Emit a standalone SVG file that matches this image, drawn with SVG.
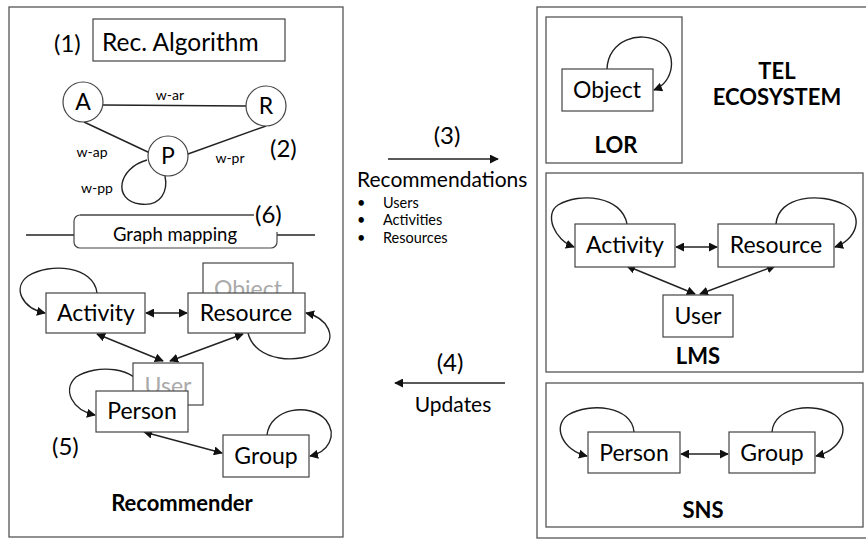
<svg xmlns="http://www.w3.org/2000/svg" width="866" height="539" viewBox="0 0 866 539">
<defs>
<marker id="ah" viewBox="0 0 10 10" refX="9" refY="5" markerWidth="9" markerHeight="9" markerUnits="userSpaceOnUse" orient="auto-start-reverse">
<path d="M0,0 L10,5 L0,10 z" fill="#111"/>
</marker>
<style>
.frame{fill:none;stroke:#555;stroke-width:1.3}
.box{fill:#fff;stroke:#444;stroke-width:1.2}
.gbox{fill:#fff;stroke:#444;stroke-width:1.2}
.ln{fill:none;stroke:#222;stroke-width:1.4}
.arr{fill:none;stroke:#222;stroke-width:1.4;marker-end:url(#ah)}
.bi{fill:none;stroke:#222;stroke-width:1.4;marker-start:url(#ah);marker-end:url(#ah)}
.t{font-family:Lato,"Open Sans",sans-serif;fill:#000}
.n{font-size:23px;text-anchor:middle}
.g{fill:#aaa}
.b{font-weight:bold;font-size:22px;text-anchor:middle}
.s{font-size:14px}
.p{font-size:24px}
</style>
</defs>
<rect width="866" height="539" fill="#fff"/>

<!-- frames -->
<g id="recommender-frame">
<rect class="frame" x="9" y="7" width="334" height="530"/>
<text class="t b" x="182" y="511" font-size="24">Recommender</text>
</g>
<g id="tel-frame">
<rect class="frame" x="537" y="7" width="340" height="531"/>
<text class="t b" x="777" y="79">TEL</text>
<text class="t b" x="777" y="105">ECOSYSTEM</text>
</g>
<g id="lor-frame">
<rect class="frame" x="546" y="17" width="136" height="146"/>
<text class="t b" x="616" y="153" font-size="23">LOR</text>
</g>
<g id="lms-frame">
<rect class="frame" x="546" y="173" width="317" height="199"/>
<text class="t b" x="698" y="364" font-size="23">LMS</text>
</g>
<g id="sns-frame">
<rect class="frame" x="546" y="383" width="317" height="144"/>
<text class="t b" x="703" y="518" font-size="23">SNS</text>
</g>

<!-- connectors -->
<g id="connectors">
<line class="ln" x1="103" y1="105" x2="246" y2="106"/>
<line class="ln" x1="84" y1="122" x2="150" y2="153"/>
<line class="ln" x1="188" y1="154" x2="266" y2="126"/>
<path class="ln" d="M147,160 C118,168 112,200 140,204 C162,207 168,190 165,176"/>
<line class="ln" x1="26" y1="235" x2="74" y2="235"/>
<line class="ln" x1="277" y1="235" x2="315" y2="235"/>
<path class="arr" d="M607,69 C608,40 640,30 660,42 C678,54 674,82 654,90"/>
<path class="arr" d="M627,224 C622,196 580,192 558,205 C544,214 554,240 574,247"/>
<path class="arr" d="M776,224 C778,196 820,192 845,205 C865,216 856,240 835,247"/>
<line class="bi" x1="676" y1="247" x2="717" y2="247"/>
<line class="bi" x1="627" y1="266" x2="695" y2="294"/>
<line class="bi" x1="775" y1="266" x2="700" y2="294"/>
<path class="arr" d="M634,432 C632,406 590,402 568,415 C552,426 562,450 587,456"/>
<path class="arr" d="M772,432 C774,406 815,402 835,415 C852,428 840,450 816,456"/>
<line class="bi" x1="681" y1="454" x2="728" y2="454"/>
<path class="arr" d="M97,293 C94,266 50,262 28,276 C12,288 22,308 45,313"/>
<path class="arr" d="M248,333 C255,362 300,365 322,350 C338,338 328,318 306,313"/>
<line class="bi" x1="146" y1="313" x2="187" y2="313"/>
<line class="bi" x1="97" y1="334" x2="163" y2="361"/>
<line class="bi" x1="243" y1="334" x2="170" y2="361"/>
<path class="arr" d="M143,391 C138,366 95,364 76,377 C62,390 72,410 95,415"/>
<path class="arr" d="M267,435 C270,408 310,402 326,420 C338,436 328,452 310,456"/>
<line class="bi" x1="144" y1="432" x2="222" y2="453"/>
<line class="arr" x1="388" y1="159" x2="498" y2="159"/>
<line class="arr" x1="505" y1="383" x2="395" y2="383"/>
</g>

<!-- Recommender nodes -->
<g id="rec-algorithm">
<text class="t p" x="54" y="52">(1)</text>
<rect class="box" x="93" y="19" width="192" height="42"/>
<text class="t" x="102" y="51" font-size="24.5">Rec. Algorithm</text>
</g>
<g id="node-A"><circle class="box" cx="83" cy="102" r="20"/><text class="t n" x="83" y="110">A</text></g>
<g id="node-R"><circle class="box" cx="266" cy="106" r="20"/><text class="t n" x="266" y="114">R</text></g>
<g id="node-P"><circle class="box" cx="168" cy="156" r="20"/><text class="t n" x="168" y="164">P</text></g>
<g id="weights">
<text class="t s" x="170" y="100" text-anchor="middle">w-ar</text>
<text class="t s" x="92" y="157" text-anchor="middle">w-ap</text>
<text class="t s" x="230" y="163" text-anchor="middle">w-pr</text>
<text class="t s" x="97" y="193" text-anchor="middle">w-pp</text>
<text class="t p" x="270" y="157">(2)</text>
</g>
<g id="graph-mapping">
<rect class="box" x="74" y="215" width="203" height="33" rx="6"/>
<rect x="254" y="198" width="40" height="34" fill="#fff"/>
<line x1="80" y1="215" x2="254" y2="215" stroke="#444" stroke-width="1.2"/>
<text class="t" x="175" y="241" font-size="18.5" text-anchor="middle">Graph mapping</text>
<text class="t p" x="255" y="223">(6)</text>
</g>
<g id="rec-object">
<rect class="gbox" x="203" y="263" width="90" height="40"/>
<text class="t n g" x="248" y="297">Object</text>
</g>
<g id="rec-activity"><rect class="box" x="46" y="293" width="99" height="40"/><text class="t n" x="96" y="321">Activity</text></g>
<g id="rec-resource"><rect class="box" x="188" y="293" width="117" height="40"/><text class="t n" x="246" y="321">Resource</text></g>
<g id="rec-user">
<rect class="gbox" x="133" y="363" width="70" height="42"/>
<text class="t n g" x="168" y="394">User</text>
</g>
<g id="rec-person"><rect class="box" x="96" y="391" width="92" height="41"/><text class="t n" x="142" y="419">Person</text></g>
<g id="rec-group"><rect class="box" x="223" y="435" width="86" height="42"/><text class="t n" x="266" y="464">Group</text></g>
<text class="t p" x="52" y="455">(5)</text>

<!-- middle labels -->
<g id="recommendations-label">
<text class="t p" x="447" y="144" text-anchor="middle">(3)</text>
<text class="t" x="357" y="187" font-size="21">Recommendations</text>
<g class="t" font-size="14.5">
<text x="357" y="208">•</text><text x="383" y="208">Users</text>
<text x="357" y="225">•</text><text x="383" y="225">Activities</text>
<text x="357" y="243">•</text><text x="383" y="243">Resources</text>
</g>
</g>
<g id="updates-label">
<text class="t p" x="450" y="371" text-anchor="middle">(4)</text>
<text class="t" x="453" y="412" font-size="21" text-anchor="middle">Updates</text>
</g>

<!-- TEL nodes -->
<g id="lor-object"><rect class="box" x="562" y="69" width="91" height="42"/><text class="t n" x="607" y="98">Object</text></g>
<g id="lms-activity"><rect class="box" x="575" y="224" width="100" height="43"/><text class="t n" x="625" y="253">Activity</text></g>
<g id="lms-resource"><rect class="box" x="718" y="224" width="116" height="43"/><text class="t n" x="776" y="253">Resource</text></g>
<g id="lms-user"><rect class="box" x="663" y="295" width="70" height="42"/><text class="t n" x="698" y="324">User</text></g>
<g id="sns-person"><rect class="box" x="588" y="432" width="92" height="41"/><text class="t n" x="634" y="461">Person</text></g>
<g id="sns-group"><rect class="box" x="729" y="432" width="86" height="41"/><text class="t n" x="772" y="461">Group</text></g>
</svg>
